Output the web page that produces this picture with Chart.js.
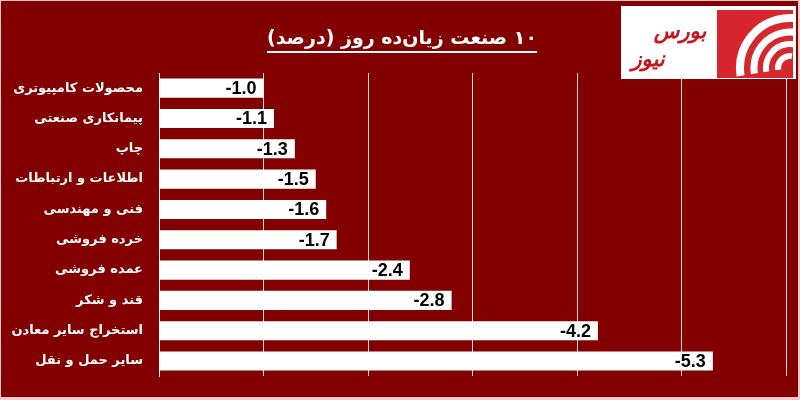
<!DOCTYPE html>
<html>
<head>
<meta charset="utf-8">
<script src="https://cdn.jsdelivr.net/npm/chart.js@4.4.1/dist/chart.umd.min.js"></script>
<style>
  html, body { margin: 0; padding: 0; background: #820000; }
  #wrap { position: relative; width: 800px; height: 400px; }
</style>
</head>
<body>
<div id="wrap"><canvas id="myChart" width="800" height="400"></canvas></div>
<script>
// داده‌ها
const categories = ['محصولات کامپیوتری', 'پیمانکاری صنعتی', 'چاپ', 'اطلاعات و ارتباطات', 'فنی و مهندسی',
  'خرده فروشی', 'عمده فروشی', 'قند و شکر', 'استخراج سایر معادن', 'سایر حمل و نقل'];
const values = [-1.0, -1.1, -1.3, -1.5, -1.6, -1.7, -2.4, -2.8, -4.2, -5.3];
const titleText = '۱۰ صنعت زیان\u200cده روز (درصد)';
const logoText = ['بورس', 'نیوز'];

const BG = '#820000';
const ARABIC_FONT = '"DejaVu Sans", sans-serif';

// background, title, logo
const decorPlugin = {
  id: 'decor',
  beforeDraw(chart) {
    const c = chart.ctx;
    c.save();
    c.fillStyle = '#f3c9c9';
    c.fillRect(0, 0, 800, 400);
    c.fillStyle = BG;
    c.fillRect(1, 1, 797, 396);
    c.restore();
  },
  afterDraw(chart) {
    const c = chart.ctx;
    c.save();
    // title
    c.direction = 'rtl';
    c.font = 'bold 19px ' + ARABIC_FONT;
    c.fillStyle = '#fff';
    c.textAlign = 'center';
    c.textBaseline = 'alphabetic';
    c.fillText(titleText, 402, 44);
    const w = c.measureText(titleText).width;
    c.fillRect(402 - w / 2, 51, w, 2);

    // logo
    c.fillStyle = '#fff';
    c.fillRect(621, 6, 175, 73);
    c.fillStyle = '#d7262d';
    c.fillRect(717, 10, 76, 68);
    c.save();
    c.beginPath();
    c.rect(717, 10, 76, 68);
    c.clip();
    c.strokeStyle = '#fff';
    [[12, 6], [24, 6], [36, 7], [50, 8]].forEach(([r, lw]) => {
      c.lineWidth = lw;
      c.beginPath();
      c.arc(790, 68, r, Math.PI * 0.95, Math.PI * 1.55);
      c.stroke();
    });
    c.restore();
    c.fillStyle = '#c8141c';
    c.font = 'bold italic 21px ' + ARABIC_FONT;
    c.textAlign = 'center';
    c.fillText(logoText[0], 680, 38);
    c.fillText(logoText[1], 648, 66);
    c.restore();
  }
};

// value labels at bar ends
const valueLabels = {
  id: 'valueLabels',
  afterDatasetsDraw(chart) {
    const c = chart.ctx;
    const meta = chart.getDatasetMeta(0);
    c.save();
    c.direction = 'ltr';
    c.font = 'bold 18px "Liberation Sans", Arial, sans-serif';
    c.fillStyle = '#000';
    c.textAlign = 'right';
    c.textBaseline = 'middle';
    meta.data.forEach((bar, i) => {
      c.fillText(values[i].toFixed(1), bar.x - 7, bar.y + 1);
    });
    c.restore();
  }
};

const ctx = document.getElementById('myChart').getContext('2d');
new Chart(ctx, {
  type: 'bar',
  data: {
    labels: categories,
    datasets: [{
      data: values,
      backgroundColor: '#ffffff',
      borderWidth: 0,
      barPercentage: 0.63,
      categoryPercentage: 1
    }]
  },
  options: {
    indexAxis: 'y',
    responsive: false,
    animation: false,
    devicePixelRatio: 1,
    layout: { padding: { top: 73, right: 14, bottom: 14, left: 0 } },
    plugins: {
      legend: { display: false },
      tooltip: { enabled: false }
    },
    scales: {
      x: {
        min: -6,
        max: 0,
        reverse: true,
        ticks: { display: false, stepSize: 1 },
        grid: { color: 'rgba(255,255,255,0.85)', lineWidth: 1, drawTicks: false },
        border: { display: false },
        afterFit(scale) { scale.height = 0; }
      },
      y: {
        ticks: {
          color: '#fff',
          padding: 16,
          font: { family: 'DejaVu Sans', size: 13, weight: 'bold' }
        },
        grid: { display: false, drawTicks: false },
        border: { display: true, color: '#fff', width: 1 },
        afterFit(scale) { scale.width = 159; }
      }
    }
  },
  plugins: [decorPlugin, valueLabels]
});
</script>
</body>
</html>
